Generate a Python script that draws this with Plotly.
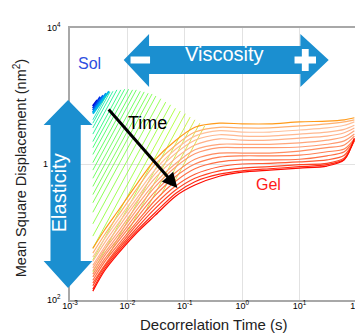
import plotly.graph_objects as go

# ---------------- data ----------------
# orange -> red curves: shared time grid (s) and log10(MSD) per curve
gel_time = [0.0025, 0.004, 0.007, 0.015, 0.03, 0.07, 0.15, 0.4, 1, 3, 10, 30, 60, 90]
gel_log_msd = [
    [-1.24, -0.97, -0.68, -0.28, 0.06, 0.35, 0.54, 0.60, 0.59, 0.59, 0.62, 0.63, 0.65, 0.68],
    [-1.31, -1.04, -0.75, -0.35, -0.01, 0.28, 0.47, 0.54, 0.53, 0.53, 0.56, 0.59, 0.62, 0.65],
    [-1.37, -1.10, -0.81, -0.43, -0.09, 0.22, 0.41, 0.49, 0.47, 0.47, 0.50, 0.53, 0.57, 0.62],
    [-1.43, -1.16, -0.87, -0.49, -0.15, 0.16, 0.35, 0.43, 0.41, 0.41, 0.44, 0.47, 0.51, 0.57],
    [-1.49, -1.22, -0.93, -0.54, -0.21, 0.09, 0.28, 0.37, 0.35, 0.35, 0.38, 0.41, 0.46, 0.53],
    [-1.53, -1.26, -0.99, -0.60, -0.28, 0.01, 0.21, 0.29, 0.29, 0.29, 0.31, 0.35, 0.40, 0.49],
    [-1.57, -1.31, -1.04, -0.66, -0.34, -0.04, 0.15, 0.24, 0.24, 0.24, 0.25, 0.29, 0.34, 0.44],
    [-1.62, -1.35, -1.09, -0.72, -0.41, -0.12, 0.07, 0.16, 0.16, 0.16, 0.19, 0.24, 0.28, 0.41],
    [-1.66, -1.40, -1.13, -0.78, -0.47, -0.18, 0.00, 0.10, 0.12, 0.12, 0.13, 0.18, 0.22, 0.37],
    [-1.71, -1.44, -1.18, -0.84, -0.54, -0.25, -0.07, 0.03, 0.06, 0.06, 0.07, 0.12, 0.18, 0.35],
    [-1.75, -1.49, -1.22, -0.88, -0.60, -0.32, -0.15, -0.04, 0.00, 0.01, 0.03, 0.06, 0.13, 0.34],
    [-1.79, -1.51, -1.25, -0.93, -0.66, -0.38, -0.21, -0.10, -0.06, -0.04, -0.01, 0.01, 0.09, 0.35],
    [-1.84, -1.54, -1.28, -0.97, -0.72, -0.43, -0.26, -0.15, -0.10, -0.07, -0.04, -0.01, 0.07, 0.37],
    [-1.87, -1.57, -1.31, -1.00, -0.76, -0.47, -0.31, -0.18, -0.12, -0.09, -0.06, -0.03, 0.06, 0.38],
]
gel_colors = ["#FF9A1A", "#FFB070", "#FFC09A", "#FFB890", "#FFB088", "#FFA57A",
              "#FF9A70", "#FF8C60", "#FF7E52", "#FF6E44", "#FF5A34", "#FF4424",
              "#FF2A14", "#FF0A00"]

# green (intermediate) lines: start / end time (s) and log10(MSD) at both ends
green_t_start = [0.0025] * 19 + [0.00452, 0.00942, 0.0199, 0.0376, 0.0640]
green_t_end = [0.00443, 0.00498, 0.00560, 0.00655, 0.00766, 0.00896, 0.0105, 0.0123,
               0.0143, 0.0168, 0.0196, 0.0230, 0.0269, 0.0314, 0.0382, 0.0465,
               0.0565, 0.0687, 0.0836, 0.102, 0.124, 0.150, 0.183, 0.222]
green_log_start = [0.65, 0.60, 0.53, 0.44, 0.33, 0.24, 0.14, 0.02, -0.09, -0.21, -0.33, -0.45,
                   -0.57, -0.71, -0.88, -1.06, -1.24, -1.41, -1.59, -1.375, -1.05, -0.72, -0.47, -0.28]
green_log_end = [1.03, 1.06, 1.07, 1.09, 1.09, 1.10, 1.10, 1.09, 1.09, 1.07, 1.06, 1.04,
                 1.03, 1.00, 0.96, 0.91, 0.87, 0.82, 0.78, 0.74, 0.69, 0.65, 0.60, 0.56]
green_colors = ["#00E0B0", "#00E8A0", "#00F090", "#00F080", "#10F870", "#20FF60",
                "#30FF50", "#40FF40", "#48FF40", "#50FF40", "#58FF38", "#60FF38",
                "#68FF30", "#70FF30", "#80FF30", "#88FF28", "#90FF28", "#A0FF20",
                "#A8FF20", "#B0F820", "#C0F020", "#C8E820", "#D0E020", "#D8D820"]

# blue (sol) lines
blue_t_start = 0.0025
blue_t_end = [0.00299, 0.00336, 0.00378, 0.00425, 0.00479]
blue_log_start = [0.85, 0.82, 0.79, 0.76, 0.74]
blue_log_end = [0.94, 0.99, 1.01, 1.04, 1.07]
blue_colors = ["#0000D0", "#0030E8", "#0060F0", "#0090F0", "#00B8E8"]

x_tickvals = [0.001, 0.01, 0.1, 1, 10, 100]
x_ticktext = ["10<sup>-3</sup>", "10<sup>-2</sup>", "10<sup>-1</sup>",
              "10<sup>0</sup>", "10<sup>1</sup>", "10<sup>2</sup>"]
y_tickvals = [0.01, 1, 100]
y_ticktext = ["10<sup>2</sup>", "1\u00a0\u00a0\u00a0\u00a0\u00a0", "10<sup>4</sup>"]

# ---------------- figure ----------------
W, H = 363, 336
L, R, T, B = 62, 7, 20, 44
PW, PH = W - L - R, H - T - B
DY = 7  # vertical text-box correction (px)


def px(x):
    return (x - L) / PW


def py(y):
    return (H - B - y) / PH


FONT = "Arial, Liberation Sans, sans-serif"
fig = go.Figure()

for te, ls, le, c in zip(blue_t_end, blue_log_start, blue_log_end, blue_colors):
    fig.add_trace(go.Scatter(x=[blue_t_start, te], y=[10 ** ls, 10 ** le], mode="lines",
                             line=dict(color=c, width=2), showlegend=False, hoverinfo="skip"))

for ts, te, ls, le, c in zip(green_t_start, green_t_end, green_log_start, green_log_end, green_colors):
    fig.add_trace(go.Scatter(x=[ts, te], y=[10 ** ls, 10 ** le], mode="lines",
                             line=dict(color=c, width=0.8), showlegend=False, hoverinfo="skip"))

for row, c in zip(gel_log_msd, gel_colors):
    fig.add_trace(go.Scatter(x=gel_time, y=[10 ** v for v in row], mode="lines",
                             line=dict(color=c, width=1.2, shape="spline", smoothing=0.8),
                             showlegend=False, hoverinfo="skip"))

BLUE = "#1B8FD0"
visc = [(117, 52), (143, 26), (143, 38), (298, 38), (298, 26), (327, 52),
        (298, 79), (298, 66), (143, 66), (143, 79)]
elas = [(60, 92), (85, 117), (73, 117), (73, 253), (85, 253), (60, 280),
        (35, 253), (42, 253), (42, 117), (35, 117)]


def path(pts):
    return "M " + " L ".join(f"{px(a):.4f},{py(b):.4f}" for a, b in pts) + " Z"


shapes = [
    dict(type="path", xref="paper", yref="paper", path=path(visc), fillcolor=BLUE,
         line=dict(width=0), layer="above"),
    dict(type="path", xref="paper", yref="paper", path=path(elas), fillcolor=BLUE,
         line=dict(width=0), layer="above"),
    dict(type="rect", xref="paper", yref="paper", x0=px(124), x1=px(144), y0=py(55.5), y1=py(48.5),
         fillcolor="white", line=dict(width=0), layer="above"),
    dict(type="rect", xref="paper", yref="paper", x0=px(292), x1=px(314), y0=py(55.5), y1=py(48.5),
         fillcolor="white", line=dict(width=0), layer="above"),
    dict(type="rect", xref="paper", yref="paper", x0=px(299.5), x1=px(306.5), y0=py(63), y1=py(41),
         fillcolor="white", line=dict(width=0), layer="above"),
]


def txt(text, x, y, size, color, angle=0):
    if angle == 0:
        y = y - DY
    else:
        x = x - DY
    return dict(text=text, x=px(x), y=py(y), xref="paper", yref="paper", showarrow=False,
                xanchor="center", yanchor="middle", textangle=angle,
                font=dict(family=FONT, size=size, color=color))


annotations = [
    txt("Viscosity", 220, 53, 20, "white"),
    txt("Elasticity", 58, 185, 20, "white", -90),
    txt("Sol", 82, 62, 16, "#2F4FE0"),
    txt("Time", 141, 122, 18, "black"),
    txt("Gel", 265, 183, 16, "#FF1A1A"),
    dict(text="", x=px(172), y=py(180), xref="paper", yref="paper", showarrow=True,
         ax=-70, ay=-80, arrowhead=2, arrowsize=1, arrowwidth=3, arrowcolor="black"),
    txt("Mean Square Displacement (nm<sup>2</sup>)", 18, 160, 14.5, "#222", -90),
    txt("Decorrelation Time (s)", 210, 323, 15, "#222"),
]

fig.update_layout(
    width=W, height=H, margin=dict(l=L, r=R, t=T, b=B),
    paper_bgcolor="white", plot_bgcolor="white",
    shapes=shapes, annotations=annotations, showlegend=False,
    xaxis=dict(type="log", range=[-3, 2], tickvals=x_tickvals, ticktext=x_ticktext,
               showgrid=True, gridcolor="#E2E2E2", gridwidth=1, zeroline=False,
               showline=True, mirror=True, linecolor="#A8A8A8", linewidth=1.5, ticks="",
               ticklabelstandoff=-4,
               tickfont=dict(family=FONT, size=9, color="black")),
    yaxis=dict(type="log", range=[-2, 2], tickvals=y_tickvals, ticktext=y_ticktext,
               showgrid=True, gridcolor="#E2E2E2", gridwidth=1, zeroline=False,
               showline=True, mirror=True, linecolor="#A8A8A8", linewidth=1.5, ticks="",
               ticklabelstandoff=6,
               tickfont=dict(family=FONT, size=9, color="black")),
)

fig.write_html("out.html")
